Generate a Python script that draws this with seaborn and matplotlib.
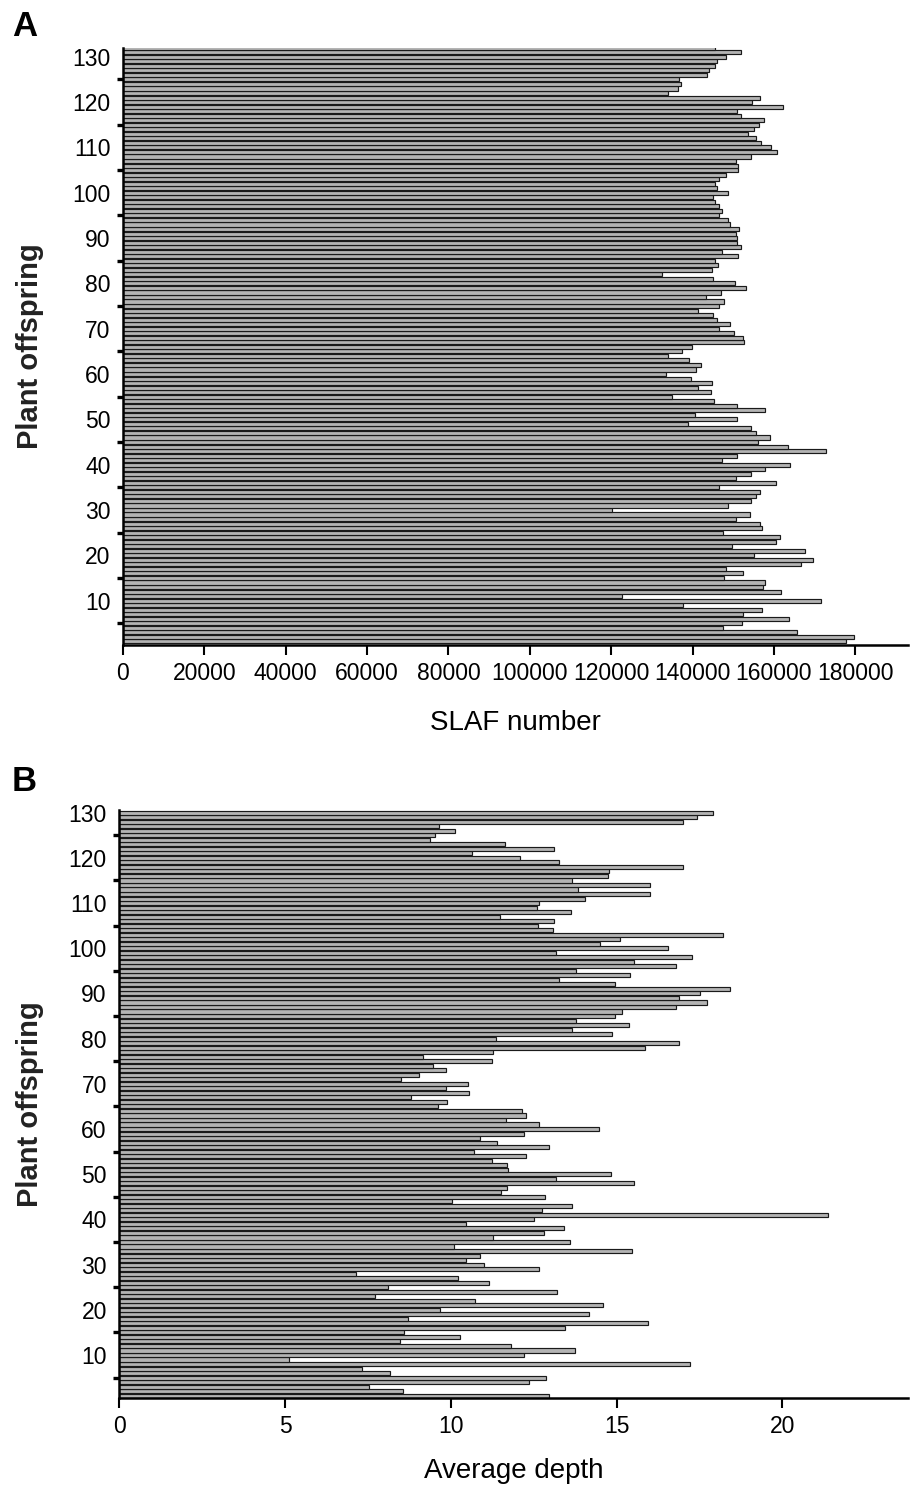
import matplotlib
matplotlib.use("Agg")
import matplotlib.pyplot as plt
import seaborn as sns
from matplotlib.ticker import FixedLocator


# ======================
# CONFIG
# ======================

sns.set_theme(style="white")
plt.rcParams['font.family'] = ['Liberation Sans', 'DejaVu Sans']

bar_fill = '#b4b4b4'
bar_edge = '#1a1a1a'


# ======================
# DATA (offspring 1 at the bottom)
# ======================

# panel A : SLAF number per plant offspring (1..132)
slaf_number = [
    177800, 179700, 165600, 147400, 152200, 163800, 152500, 157000, 137600, 171500,
    122600, 161800, 157300, 157800, 147700, 152500, 148300, 166700, 169700, 155200,
    167500, 149700, 160600, 161400, 147400, 157000, 156500, 150600, 154000, 120200,
    148700, 154400, 155600, 156500, 146400, 160400, 150700, 154400, 157800, 164000,
    147300, 151000, 172700, 163400, 156000, 158900, 155500, 154400, 138800, 151000,
    140500, 157700, 150900, 145200, 135000, 144400, 141300, 144800, 139700, 133500,
    140900, 142100, 139200, 133900, 137400, 139900, 152600, 152400, 150100, 146500,
    149100, 146000, 145000, 141300, 146600, 147800, 143300, 147000, 153200, 150500,
    145000, 132500, 144800, 146200, 145400, 151100, 147300, 152000, 151000, 150900,
    150600, 151500, 149200, 148700, 146500, 147300, 146600, 145400, 145100, 148700,
    146000, 145600, 146600, 148100, 151100, 151100, 150600, 154400, 160800, 159200,
    156900, 155600, 153600, 155000, 156200, 157600, 152000, 151000, 162200, 154700,
    156500, 133900, 136500, 137200, 136600, 143600, 144000, 145600, 146000, 148300,
    152000, 145400,
]
offspring_a = list(range(1, len(slaf_number) + 1))

# panel B : average depth per plant offspring (1..130)
average_depth = [
    12.97, 8.57, 7.52, 12.35, 12.86, 8.16, 7.33, 17.22, 5.13, 12.21,
    13.74, 11.82, 8.47, 10.29, 8.60, 13.45, 15.94, 8.72, 14.18, 9.67,
    14.58, 10.73, 7.72, 13.19, 8.10, 11.16, 10.21, 7.14, 12.67, 10.99,
    10.45, 10.89, 15.46, 10.11, 13.60, 11.28, 12.82, 13.41, 10.45, 12.50,
    21.39, 12.75, 13.67, 10.04, 12.85, 11.50, 11.69, 15.53, 13.16, 14.83,
    11.72, 11.68, 11.25, 12.28, 10.70, 12.97, 11.38, 10.87, 12.21, 14.48,
    12.67, 11.65, 12.26, 12.16, 9.60, 9.89, 8.79, 10.55, 9.86, 10.51,
    8.50, 9.05, 9.86, 9.45, 11.25, 9.16, 11.28, 15.87, 16.88, 11.36,
    14.87, 13.67, 15.38, 13.77, 14.95, 15.16, 16.78, 17.73, 16.88, 17.51,
    18.42, 14.95, 13.26, 15.41, 13.77, 16.78, 15.53, 17.29, 13.16, 16.56,
    14.51, 15.09, 18.20, 13.08, 12.64, 13.11, 11.47, 13.63, 12.60, 12.67,
    14.04, 16.01, 13.85, 16.01, 13.67, 14.73, 14.77, 17.00, 13.26, 12.09,
    10.65, 13.11, 11.62, 9.38, 9.52, 10.14, 9.63, 17.00, 17.44, 17.90,
]
offspring_b = list(range(1, len(average_depth) + 1))

y_labels = list(range(10, 131, 10))
y_marks = list(range(5, 126, 10))
x_ticks_a = list(range(0, 180001, 20000))
x_ticks_b = [0, 5, 10, 15, 20]


# ======================
# FIGURE
# ======================

fig = plt.figure(figsize=(9.11, 14.87), dpi=100)
ax_a = fig.add_axes([0.135, 0.5662, 0.862, 0.4017])
ax_b = fig.add_axes([0.131, 0.0599, 0.866, 0.3954])


def style_axis(ax, values, ids, xticks, xlim, ylim, xlabel, xlab_y, ylab_x):
    sns.barplot(
        x=values,
        y=ids,
        orient='y',
        native_scale=True,
        width=0.9,
        color=bar_fill,
        saturation=1,
        edgecolor=bar_edge,
        linewidth=0.85,
        errorbar=None,
        ax=ax
    )

    ax.set_xlim(*xlim)
    ax.set_ylim(*ylim)
    ax.set_xticks(xticks)
    ax.set_xticklabels([str(t) for t in xticks])

    ax.yaxis.set_major_locator(FixedLocator(y_labels))
    ax.yaxis.set_minor_locator(FixedLocator(y_marks))
    ax.set_yticklabels([str(t) for t in y_labels])

    for side in ['top', 'right']:
        ax.spines[side].set_visible(False)
    for side in ['left', 'bottom']:
        ax.spines[side].set_color('black')
        ax.spines[side].set_linewidth(1.8)

    ax.tick_params(axis='x', which='major', direction='out', length=7,
                   width=1.5, color='black', labelsize=16.5, pad=5,
                   labelcolor='black', bottom=True)
    ax.tick_params(axis='y', which='major', length=0, pad=9,
                   labelsize=16.5, labelcolor='black', left=True)
    ax.tick_params(axis='y', which='minor', direction='inout', length=8,
                   width=2.4, color='black', left=True)

    ax.set_xlabel(xlabel, fontsize=20, color='black')
    ax.xaxis.set_label_coords(0.5, xlab_y)
    ax.set_ylabel('Plant offspring', fontsize=21, fontweight='bold',
                  color='#222222')
    ax.yaxis.set_label_coords(ylab_x, 0.5)


style_axis(ax_a, slaf_number, offspring_a, x_ticks_a, (0, 193000),
           (0.2, 132.0), 'SLAF number', -0.108, -0.100)
style_axis(ax_b, average_depth, offspring_b, x_ticks_b, (0, 23.8),
           (0.5, 130.6), 'Average depth', -0.103, -0.095)

fig.text(0.013, 1 - 36 / 1487, 'A', fontsize=25, fontweight='bold',
         color='black')
fig.text(0.013, 1 - 791 / 1487, 'B', fontsize=25, fontweight='bold',
         color='black')

fig.savefig('out.png', dpi=100)
